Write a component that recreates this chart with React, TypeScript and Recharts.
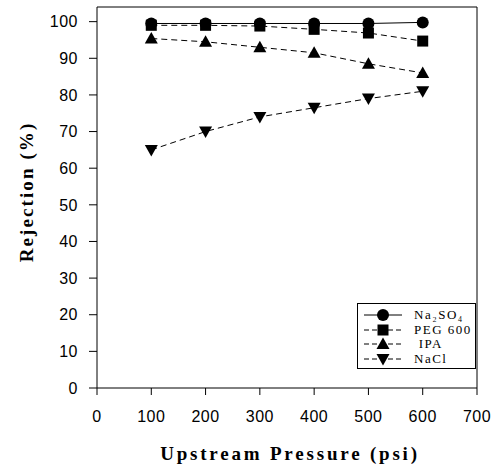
import React from 'react';
import {
  LineChart,
  Line,
  XAxis,
  YAxis,
  ReferenceLine,
} from 'recharts';

const pressures = [100, 200, 300, 400, 500, 600];
const na2so4 = [99.5, 99.5, 99.5, 99.5, 99.5, 99.8];
const peg600 = [99, 99, 98.8, 97.9, 96.9, 94.7];
const ipa = [95.4, 94.5, 93, 91.5, 88.5, 86];
const nacl = [65, 70, 74, 76.5, 79, 81];

const xTicks = [0, 100, 200, 300, 400, 500, 600, 700];
const yTicks = [0, 10, 20, 30, 40, 50, 60, 70, 80, 90, 100];

const data = pressures.map((p, i) => ({
  p,
  na2so4: na2so4[i],
  peg600: peg600[i],
  ipa: ipa[i],
  nacl: nacl[i],
}));

type Shape = 'circle' | 'square' | 'up' | 'down';

function marker(shape: Shape, cx: number, cy: number, key?: string | number) {
  if (shape === 'circle') return <circle key={key} cx={cx} cy={cy} r={6} fill="#000" />;
  if (shape === 'square')
    return <rect key={key} x={cx - 5.5} y={cy - 5.5} width={11} height={11} fill="#000" />;
  if (shape === 'up')
    return (
      <path key={key} d={`M${cx},${cy - 6.5} L${cx + 6.5},${cy + 5} L${cx - 6.5},${cy + 5} Z`} fill="#000" />
    );
  return (
    <path key={key} d={`M${cx},${cy + 6.5} L${cx + 6.5},${cy - 5} L${cx - 6.5},${cy - 5} Z`} fill="#000" />
  );
}

const dotFor = (shape: Shape) => (props: any) =>
  marker(shape, props.cx, props.cy, `${shape}-${props.index}`);

const serif = '"Liberation Serif", "DejaVu Serif", serif';
const sans = '"Liberation Sans", Arial, sans-serif';

const legendRows: { shape: Shape; dash: string; label: string }[] = [
  { shape: 'circle', dash: '', label: 'Na₂SO₄' },
  { shape: 'square', dash: '5 3', label: 'PEG 600' },
  { shape: 'up', dash: '5 3', label: ' IPA' },
  { shape: 'down', dash: '5 3', label: 'NaCl' },
];

function LegendBox() {
  return (
    <div
      style={{
        position: 'absolute',
        left: 357,
        top: 303,
        width: 117,
        height: 64,
        border: '1px solid #000',
        background: '#fff',
      }}
    >
      {legendRows.map((r, i) => {
        const y = 11 + i * 14.5;
        return (
          <div key={i} style={{ position: 'absolute', left: 0, top: y - 8, height: 16, width: 117 }}>
            <svg width={50} height={16} style={{ position: 'absolute', left: 0, top: 0 }}>
              <line x1={6} x2={44} y1={8} y2={8} stroke="#000" strokeWidth={1} strokeDasharray={r.dash} />
              {marker(r.shape, 25, 8)}
            </svg>
            <div
              style={{
                position: 'absolute',
                left: 56,
                top: 0,
                lineHeight: '16px',
                fontFamily: serif,
                fontSize: 13,
                letterSpacing: 1.5,
                whiteSpace: 'pre',
                color: '#000',
              }}
            >
              {r.label}
            </div>
          </div>
        );
      })}
    </div>
  );
}

export default function App() {
  return (
    <div style={{ position: 'absolute', left: 0, top: 0, width: 495, height: 467, background: '#fff' }}>
      <LineChart width={495} height={467} data={data} margin={{ top: 7, right: 18, bottom: 49, left: 0 }}>
        <XAxis
          dataKey="p"
          type="number"
          domain={[0, 700]}
          ticks={xTicks}
          height={30}
          stroke="#000"
          tickSize={7}
          tickMargin={16}
          tick={{ fill: '#000', fontSize: 16, fontFamily: sans, letterSpacing: 0.5 }}
          label={() => (
            <text
              x={290}
              y={453}
              textAnchor="middle"
              dominantBaseline="central"
              fontFamily={serif}
              fontWeight="bold"
              fontSize={19}
              letterSpacing={2.8}
              fill="#000"
            >
              Upstream Pressure (psi)
            </text>
          )}
        />
        <YAxis
          type="number"
          domain={[0, 104]}
          ticks={yTicks}
          width={97}
          stroke="#000"
          tickSize={8}
          tickMargin={11}
          tick={{ fill: '#000', fontSize: 16, fontFamily: sans, letterSpacing: 0.5 }}
          label={() => (
            <text
              x={26}
              y={192}
              transform="rotate(-90 26 192)"
              textAnchor="middle"
              dominantBaseline="central"
              fontFamily={serif}
              fontWeight="bold"
              fontSize={19}
              letterSpacing={2.1}
              fill="#000"
            >
              Rejection (%)
            </text>
          )}
        />
        <ReferenceLine y={104} stroke="#000" />
        <ReferenceLine x={700} stroke="#000" />
        <Line dataKey="na2so4" stroke="#000" strokeWidth={1} dot={dotFor('circle')} isAnimationActive={false} />
        <Line dataKey="peg600" stroke="#000" strokeWidth={1} strokeDasharray="6 4" dot={dotFor('square')} isAnimationActive={false} />
        <Line dataKey="ipa" stroke="#000" strokeWidth={1} strokeDasharray="6 4" dot={dotFor('up')} isAnimationActive={false} />
        <Line dataKey="nacl" stroke="#000" strokeWidth={1} strokeDasharray="6 4" dot={dotFor('down')} isAnimationActive={false} />
      </LineChart>
      <LegendBox />
    </div>
  );
}
